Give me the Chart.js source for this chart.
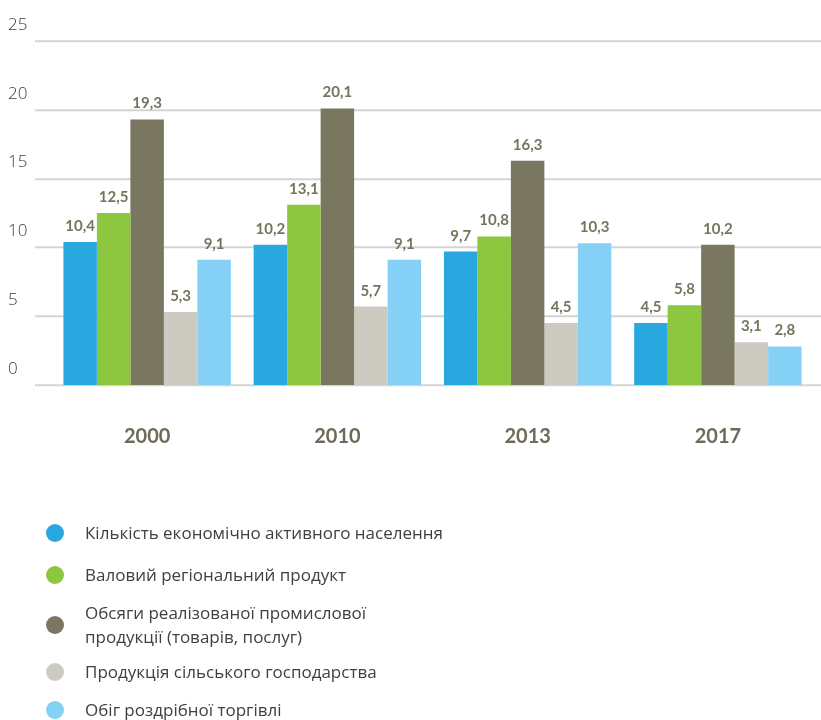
<!DOCTYPE html>
<html>
<head>
<meta charset="utf-8">
<script src="https://cdn.jsdelivr.net/npm/chart.js@4.4.1/dist/chart.umd.min.js"></script>
<style>
  html, body { margin: 0; padding: 0; background: #fff; }
  #wrap { position: relative; width: 821px; height: 720px; overflow: hidden; }
  #c { position: absolute; left: 0; top: 0; }
  #legend { position: absolute; left: 0; top: 0; width: 821px; height: 720px; pointer-events: none; }
  .li { position: absolute; left: 46px; display: flex; align-items: center;
        font-family: "Open Sans", sans-serif; font-size: 17px; color: #404040; line-height: 24px; }
  .dot { width: 18px; height: 18px; border-radius: 50%; flex: 0 0 18px; margin-right: 21px; }
</style>
</head>
<body>
<div id="wrap">
  <canvas id="c" width="821" height="480"></canvas>
  <div id="legend"></div>
</div>
<script>
const categories = ["2000", "2010", "2013", "2017"];
const seriesNames = [
  "Кількість економічно активного населення",
  "Валовий регіональний продукт",
  "Обсяги реалізованої промислової\nпродукції (товарів, послуг)",
  "Продукція сільського господарства",
  "Обіг роздрібної торгівлі"
];
const activePopulation = [10.4, 10.2, 9.7, 4.5];
const grossRegionalProduct = [12.5, 13.1, 10.8, 5.8];
const industrialProduction = [19.3, 20.1, 16.3, 10.2];
const agriculturalProduction = [5.3, 5.7, 4.5, 3.1];
const retailTurnover = [9.1, 9.1, 10.3, 2.8];
const yTicks = [0, 5, 10, 15, 20, 25];
const seriesColors = ["#29a8e0", "#8dc63f", "#7a7760", "#cdcac2", "#84d1f5"];
const legendTops = [533, 575, 625, 672, 710];

const seriesValues = [activePopulation, grossRegionalProduct, industrialProduction, agriculturalProduction, retailTurnover];

const gridPlugin = {
  id: 'fullGrid',
  beforeDatasetsDraw(chart) {
    const ctx = chart.ctx, y = chart.scales.y;
    ctx.save();
    ctx.strokeStyle = '#d4d4d4';
    ctx.lineWidth = 1.8;
    yTicks.forEach(v => {
      const py = Math.round(y.getPixelForValue(v)) + 0.25;
      ctx.beginPath();
      ctx.moveTo(35, py);
      ctx.lineTo(821, py);
      ctx.stroke();
    });
    ctx.restore();
  }
};

const labelPlugin = {
  id: 'valueLabels',
  afterDatasetsDraw(chart) {
    const ctx = chart.ctx;
    ctx.save();
    ctx.font = 'bold 15px Lato, "Open Sans", sans-serif';
    ctx.fillStyle = '#77745e';
    ctx.textAlign = 'center';
    ctx.textBaseline = 'alphabetic';
    chart.data.datasets.forEach((ds, i) => {
      const meta = chart.getDatasetMeta(i);
      meta.data.forEach((el, j) => {
        const txt = ds.data[j].toFixed(1).replace('.', ',');
        ctx.fillText(txt, el.x, el.y - 11);
      });
    });
    ctx.restore();
  }
};

new Chart(document.getElementById('c'), {
  type: 'bar',
  data: {
    labels: categories,
    datasets: seriesValues.map((vals, i) => ({
      label: seriesNames[i],
      data: vals,
      backgroundColor: seriesColors[i],
      borderWidth: 0,
      barPercentage: 1.0,
      categoryPercentage: 0.88
    }))
  },
  options: {
    responsive: false,
    animation: false,
    layout: { padding: { left: 8, right: 8, top: 41, bottom: 0 } },
    plugins: { legend: { display: false }, tooltip: { enabled: false } },
    scales: {
      x: {
        grid: { display: false, drawTicks: false },
        border: { display: false },
        ticks: {
          padding: 40,
          color: '#6e6b58',
          font: { family: 'Lato, "Open Sans", sans-serif', size: 20, weight: 'bold' }
        },
        afterFit(s) { s.height = 95; }
      },
      y: {
        min: 0, max: 25,
        grid: { display: false, drawTicks: false },
        border: { display: false },
        ticks: {
          stepSize: 5,
          labelOffset: -16,
          crossAlign: 'far',
          padding: 0,
          color: '#3a3a3a',
          font: { family: '"Open Sans", sans-serif', size: 17, weight: '300' }
        },
        afterFit(s) { s.width = 44; }
      }
    }
  },
  plugins: [gridPlugin, labelPlugin]
});

const legend = document.getElementById('legend');
seriesNames.forEach((name, i) => {
  const item = document.createElement('div');
  item.className = 'li';
  const lines = name.split('\n');
  item.style.top = (legendTops[i] - lines.length * 12) + 'px';
  const dot = document.createElement('span');
  dot.className = 'dot';
  dot.style.background = seriesColors[i];
  const txt = document.createElement('span');
  lines.forEach((ln, k) => {
    if (k) txt.appendChild(document.createElement('br'));
    txt.appendChild(document.createTextNode(ln));
  });
  item.appendChild(dot);
  item.appendChild(txt);
  legend.appendChild(item);
});
</script>
</body>
</html>
